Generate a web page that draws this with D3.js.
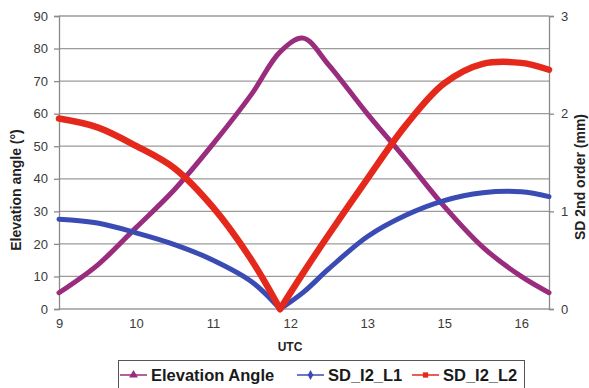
<!DOCTYPE html>
<html>
<head>
<meta charset="utf-8">
<script src="https://cdn.jsdelivr.net/npm/d3@7"></script>
<style>
  body { margin: 0; background: #fff; }
  svg { display: block; font-family: "Liberation Sans", Arial, sans-serif; }
</style>
</head>
<body>
<svg id="chart" width="589" height="388"></svg>
<script>
// sample positions along the UTC axis (category index, 0 = "9")
const utcPos = [0, 0.5, 1, 1.5, 2, 2.5, 2.87, 3.17, 3.5, 4, 4.5, 5, 5.5, 6, 6.36];
const xTickLabels = ["9", "10", "11", "12", "13", "15", "16"];

// elevation angle (deg), left axis
const elevation = [5, 13.5, 25, 36.7, 50.7, 66, 79, 83.2, 75, 60, 46, 31.5, 19, 10, 5];
// SD 2nd order (mm), right axis
const sdL1 = [0.92, 0.88, 0.78, 0.66, 0.5, 0.28, 0, 0.17, 0.41, 0.74, 0.96, 1.11, 1.19, 1.2, 1.15];
const sdL2 = [1.95, 1.86, 1.67, 1.44, 1.04, 0.5, 0, 0.37, 0.76, 1.33, 1.88, 2.31, 2.51, 2.52, 2.45];

const leftTicks = d3.range(0, 91, 10);
const rightTicks = [0, 1, 2, 3];

const seriesNames = ["Elevation Angle", "SD_I2_L1", "SD_I2_L2"];
const seriesColors = ["#9a2c7d", "#3b4bb4", "#e4291c"];

const margin = { left: 59, right: 40, top: 16, bottom: 79 },
  W = 589, H = 388;

const svg = d3.select("#chart");

const x = d3.scaleLinear().domain([0, 6.36]).range([margin.left, W - margin.right]);
const yL = d3.scaleLinear().domain([0, 90]).range([H - margin.bottom, margin.top]);
const yR = d3.scaleLinear().domain([0, 3]).range([H - margin.bottom, margin.top]);

// gridlines
svg.append("g").selectAll("line").data(leftTicks).enter().append("line")
  .attr("x1", x.range()[0]).attr("x2", x.range()[1])
  .attr("y1", d => yL(d)).attr("y2", d => yL(d))
  .attr("stroke", "#9b9b9b").attr("stroke-width", 1.3);

// left axis
const axL = svg.append("g").attr("transform", `translate(${x.range()[0]},0)`)
  .call(d3.axisLeft(yL).tickValues(leftTicks).tickSize(5).tickPadding(6));
// right axis
const axR = svg.append("g").attr("transform", `translate(${x.range()[1]},0)`)
  .call(d3.axisRight(yR).tickValues(rightTicks).tickFormat(d3.format("d")).tickSize(5).tickPadding(7));
// bottom axis (labels only)
const axB = svg.append("g").attr("transform", `translate(0,${yL(0)})`)
  .call(d3.axisBottom(x).tickValues(d3.range(xTickLabels.length))
    .tickFormat((d, i) => xTickLabels[i]).tickSize(0).tickPadding(10));

[axL, axR, axB].forEach(g => {
  g.selectAll("path.domain").attr("stroke", "#8a8a8a").attr("stroke-width", 1.3);
  g.selectAll(".tick line").attr("stroke", "#8a8a8a").attr("stroke-width", 1.3);
  g.selectAll(".tick text").attr("fill", "#3a3a3a").style("font-size", "13px");
});
axB.select("path.domain").remove();

// series lines, split at the zero cusp so the V stays sharp
function drawSeries(values, yScale, color, width, cusp) {
  const pts = utcPos.map((p, i) => [p, values[i]]);
  const line = d3.line().x(d => x(d[0])).y(d => yScale(d[1])).curve(d3.curveCatmullRom.alpha(0.5));
  const parts = cusp == null ? [pts] : [pts.slice(0, cusp + 1), pts.slice(cusp)];
  parts.forEach(seg => {
    svg.append("path").attr("d", line(seg))
      .attr("fill", "none").attr("stroke", color)
      .attr("stroke-width", width).attr("stroke-linejoin", "round").attr("stroke-linecap", "round");
  });
}
drawSeries(elevation, yL, seriesColors[0], 5, null);
drawSeries(sdL1, yR, seriesColors[1], 5, sdL1.indexOf(0));
drawSeries(sdL2, yR, seriesColors[2], 6.5, sdL2.indexOf(0));

// axis titles
svg.append("text").attr("transform", `translate(21,190) rotate(-90)`)
  .attr("text-anchor", "middle").style("font-size", "14px").style("font-weight", "bold")
  .attr("fill", "#222").text("Elevation angle (°)");
svg.append("text").attr("transform", `translate(585,177) rotate(-90)`)
  .attr("text-anchor", "middle").style("font-size", "14px").style("font-weight", "bold")
  .attr("fill", "#222").text("SD 2nd order (mm)");
svg.append("text").attr("x", 290).attr("y", 351)
  .attr("text-anchor", "middle").style("font-size", "12px").style("font-weight", "bold")
  .attr("fill", "#222").text("UTC");

// legend
const legend = svg.append("g");
legend.append("rect").attr("x", 118.5).attr("y", 360.5).attr("width", 406).attr("height", 40)
  .attr("fill", "#fff").attr("stroke", "#555").attr("stroke-width", 1);
const legendX = [120, 297, 412];
const symbols = [d3.symbolTriangle, d3.symbolDiamond, d3.symbolSquare];
const item = legend.selectAll("g.item").data(seriesNames).enter().append("g")
  .attr("class", "item")
  .attr("transform", (d, i) => `translate(${legendX[i]},375)`);
item.append("line").attr("x1", 0).attr("x2", 27)
  .attr("stroke", (d, i) => seriesColors[i]).attr("stroke-width", 1.5);
item.append("path")
  .attr("d", (d, i) => d3.symbol().type(symbols[i]).size(i === 0 ? 34 : 28)())
  .attr("transform", "translate(13.5,0)")
  .attr("fill", (d, i) => seriesColors[i]);
item.append("text").attr("x", 31).attr("y", 5.5)
  .style("font-size", "16.5px").style("font-weight", "bold")
  .attr("fill", "#1a1a1a").text(d => d);
</script>
</body>
</html>
